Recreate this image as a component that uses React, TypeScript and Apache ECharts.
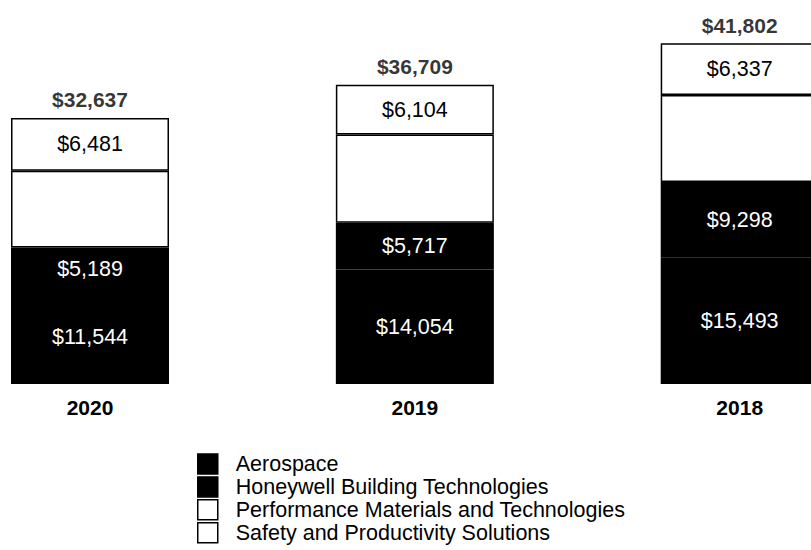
import React, { useEffect, useRef } from "react";
import * as echarts from "echarts";

const years = ["2020", "2019", "2018"];
const aerospace = [11544, 14054, 15493];
const buildingTech = [5189, 5717, 9298];
const perfMaterials = [9423, 10834, 10674];
const safetyProd = [6481, 6104, 6337];
const totals = [32637, 36709, 41802];
const seriesNames = [
  "Aerospace",
  "Honeywell Building Technologies",
  "Performance Materials and Technologies",
  "Safety and Productivity Solutions",
];

const FONT = "'Liberation Sans', Arial, Helvetica, sans-serif";
const fmt = (v: number) => "$" + v.toLocaleString("en-US");

export default function App() {
  const ref = useRef<HTMLDivElement>(null);
  useEffect(() => {
    if (!ref.current) return;
    const chart = echarts.init(ref.current, null, { renderer: "svg" });
    const seg = (
      name: string,
      data: number[],
      fill: string,
      textColor: string,
      showLabel: boolean
    ) => ({
      name,
      type: "bar",
      stack: "total",
      data,
      barWidth: 158,
      clip: false,
      itemStyle: { color: fill, borderColor: "#000", borderWidth: 1.5 },
      label: {
        show: showLabel,
        position: "inside",
        color: textColor,
        fontFamily: FONT,
        fontSize: 21.5,
        formatter: (p: any) => fmt(p.value),
      },
    });
    chart.setOption({
      animation: false,
      backgroundColor: "#fff",
      grid: { left: 90, right: 71.3, top: 17.2, bottom: 166, containLabel: false },
      xAxis: {
        type: "category",
        data: years,
        boundaryGap: false,
        axisLine: { show: false },
        axisTick: { show: false },
        splitLine: { show: false },
        axisLabel: {
          color: "#000",
          fontFamily: FONT,
          fontSize: 21,
          fontWeight: "bold",
          margin: 13,
        },
      },
      yAxis: { type: "value", min: 0, max: 45000, show: false },
      legend: {
        orient: "vertical",
        left: 197,
        top: 453,
        height: 97,
        padding: 0,
        itemWidth: 20,
        itemHeight: 20,
        itemGap: 0.9,
        icon: "rect",
        data: seriesNames,
        itemStyle: { borderColor: "#000", borderWidth: 1.5 },
        textStyle: {
          color: "#000",
          fontFamily: FONT,
          fontSize: 21.5,
          lineHeight: 20,
          padding: [0, 0, 0, 13],
        },
      },
      series: [
        seg(seriesNames[0], aerospace, "#000", "#fff", true),
        seg(seriesNames[1], buildingTech, "#000", "#fff", true),
        seg(seriesNames[2], perfMaterials, "#fff", "#000", false),
        seg(seriesNames[3], safetyProd, "#fff", "#000", true),
        {
          name: "Total",
          type: "scatter",
          data: totals,
          symbolSize: 1,
          clip: false,
          itemStyle: { color: "rgba(0,0,0,0)" },
          label: {
            show: true,
            position: "top",
            distance: 7,
            color: "#000",
            fontFamily: FONT,
            fontSize: 21,
            fontWeight: "bold",
            formatter: (p: any) => fmt(p.value),
          },
        },
      ],
    });
    return () => chart.dispose();
  }, []);
  return <div ref={ref} style={{ width: 811, height: 550, position: "absolute", left: 0, top: 0 }} />;
}
